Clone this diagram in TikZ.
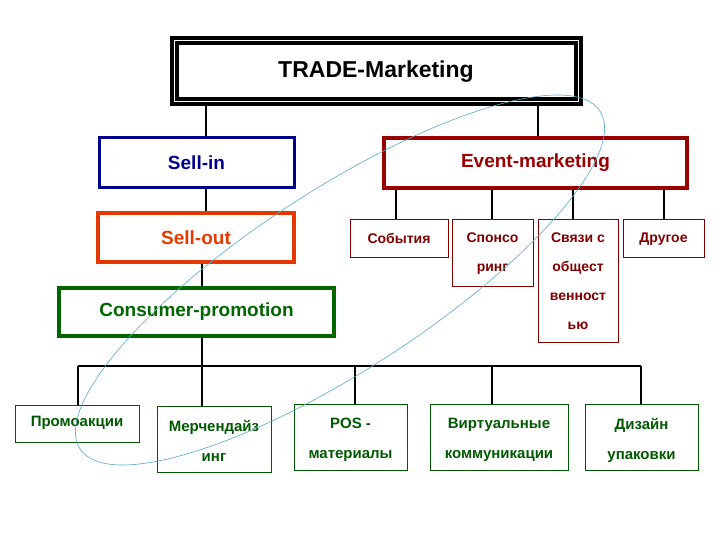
\documentclass[tikz,border=0pt]{standalone}
\usepackage{fontspec}
\setmainfont{Liberation Sans}
\begin{document}
\begin{tikzpicture}[x=1pt,y=-1pt,
  bx/.style={draw,inner sep=0pt,align=center,font=\bfseries},
  big/.style={font=\bfseries\fontsize{19}{22}\selectfont},
  cn/.style={line width=1.6pt},
  small/.style={draw=red!50!black,line width=0.6pt,inner sep=0pt},
  stxt/.style={text=red!50!black,font=\bfseries\fontsize{14}{29}\selectfont,align=center,inner sep=0pt,anchor=north,yshift=-14pt},
  bot/.style={draw=green!35!black,line width=0.6pt,inner sep=0pt},
  btxt/.style={text=green!35!black,font=\bfseries\fontsize{15}{30}\selectfont,align=center,inner sep=0pt,anchor=north,yshift=-14pt}]
\useasboundingbox (0,0) rectangle (720,540);
\node[bx,line width=4pt,double,double distance=1pt,minimum width=404,minimum height=61,font=\bfseries\fontsize{23}{26}\selectfont] (top) at (376,71.5) {TRADE-Marketing};
\node[bx,big,draw=blue!55!black,text=blue!55!black,line width=3pt,minimum width=195,minimum height=50] (sin) at (196.5,163) {Sell-in};
\node[bx,big,draw=red!60!black,text=red!60!black,line width=3.5pt,minimum width=303,minimum height=50] (ev) at (535.5,163) {Event-marketing};
\node[bx,big,draw=orange!50!red!90!black,text=orange!50!red!90!black,line width=3.5pt,minimum width=196,minimum height=49] (sout) at (196,237.5) {Sell-out};
\node[bx,big,draw=green!40!black,text=green!40!black,line width=3.5pt,minimum width=275,minimum height=48] (cp) at (196.5,312) {Consumer-promotion};
\node[small,minimum width=98,minimum height=38] (s1) at (399,238) {};
\node[small,minimum width=81,minimum height=67,anchor=north] (s2) at (492.5,219) {};
\node[small,minimum width=80,minimum height=123,anchor=north] (s3) at (578,219) {};
\node[small,minimum width=81,minimum height=38] (s4) at (663.5,238) {};
\node[stxt] (t1) at (s1.north) {События};
\node[stxt] (t2) at (s2.north) {Спонсо\\ринг};
\node[stxt] (t3) at (s3.north) {Связи с\\общест\\венност\\ью};
\node[stxt] (t4) at (s4.north) {Другое};
\foreach \n/\x in {s1/396,s2/492,s3/573,s4/664} \draw[cn] (ev.south -| \x,0) -- (\n.north -| \x,0);
\draw[cn] (top.south -| 206,0) -- (sin.north -| 206,0);
\draw[cn] (top.south -| 538,0) -- (ev.north -| 538,0);
\draw[cn] (sin.south -| 206,0) -- (sout.north -| 206,0);
\draw[cn] (sout.south -| 202,0) -- (cp.north -| 202,0);
\coordinate (bus) at (202,366);
\draw[cn] (cp.south -| bus) -- (bus);
\draw[cn] (78,366) -- (641,366);
\node[bot,minimum width=124,minimum height=37] (b1) at (77,423.5) {};
\node[bot,minimum width=114,minimum height=66] (b2) at (214,439) {};
\node[bot,minimum width=113,minimum height=66] (b3) at (350.5,437) {};
\node[bot,minimum width=138,minimum height=66] (b4) at (499,437) {};
\node[bot,minimum width=113,minimum height=66] (b5) at (641.5,437) {};
\node[btxt,yshift=3pt] (u1) at (b1.north) {Промоакции};
\node[btxt] (u2) at (b2.north) {Мерчендайз\\инг};
\node[btxt] (u3) at (b3.north) {POS -\\материалы};
\node[btxt] (u4) at (b4.north) {Виртуальные\\коммуникации};
\node[btxt] (u5) at (b5.north) {Дизайн\\упаковки};
\foreach \n/\x in {b1/78,b2/202,b3/355,b4/492,b5/641} \draw[cn] (\x,366) -- (\n.north -| \x,0);
\draw[cyan!60!gray,line width=0.6pt] (340,280) ellipse[x radius=310,y radius=90,rotate=33];
\end{tikzpicture}
\end{document}
